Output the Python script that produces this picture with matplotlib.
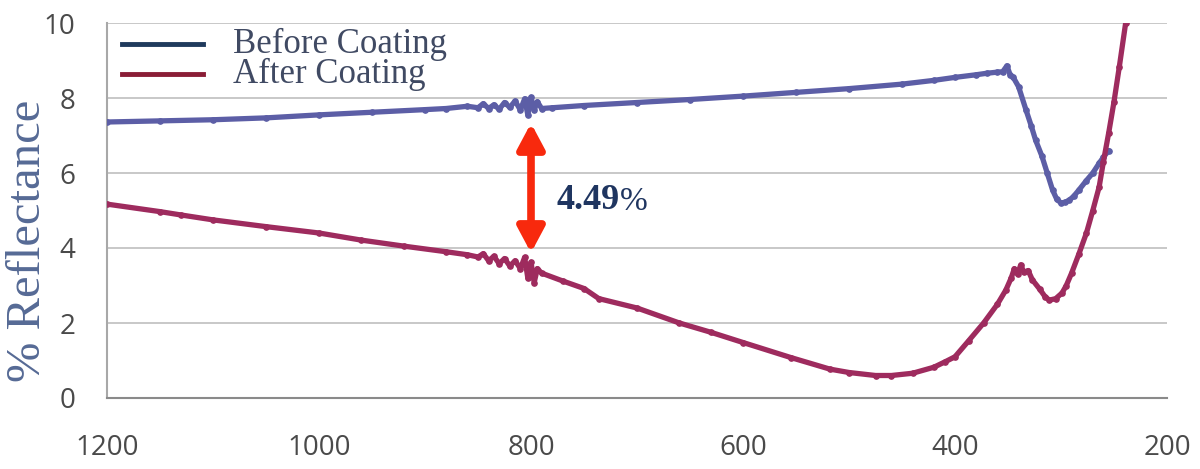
import numpy as np
import matplotlib.pyplot as plt
from matplotlib.lines import Line2D
from matplotlib.patches import FancyArrowPatch

# wavelength (nm) and % reflectance, before coating
wl_before = [1200, 1150, 1100, 1050, 1000, 950, 900, 880, 860, 850, 845, 840, 835,
             830, 825, 820, 815, 810, 806, 803, 800, 797, 794, 790, 780, 750, 700,
             650, 600, 550, 500, 450, 420, 400, 380, 370, 360, 355, 351, 348, 345,
             340, 333, 328, 324, 318, 313, 308, 304, 300, 296, 292, 288, 283, 276,
             270, 264, 260, 255]
r_before = [7.36, 7.39, 7.42, 7.47, 7.55, 7.62, 7.69, 7.72, 7.78, 7.74, 7.85, 7.72,
            7.82, 7.70, 7.88, 7.75, 7.92, 7.68, 7.98, 7.55, 8.02, 7.68, 7.90, 7.72,
            7.74, 7.80, 7.88, 7.96, 8.05, 8.15, 8.25, 8.37, 8.47, 8.55, 8.62, 8.66,
            8.69, 8.70, 8.86, 8.62, 8.55, 8.30, 7.68, 7.25, 6.88, 6.45, 6.00, 5.55,
            5.30, 5.20, 5.22, 5.28, 5.38, 5.55, 5.80, 6.00, 6.26, 6.42, 6.60]

# wavelength (nm) and % reflectance, after coating
wl_after = [1200, 1150, 1130, 1100, 1050, 1000, 960, 920, 880, 860, 850, 845, 840,
            835, 830, 825, 820, 815, 810, 806, 803, 800, 797, 794, 790, 770, 750,
            736, 700, 660, 630, 600, 555, 518, 500, 475, 460, 440, 420, 409, 400,
            387, 373, 360, 352, 347, 344, 341, 338, 335, 331, 327, 320, 315, 311,
            305, 299, 295, 290, 283, 276, 270, 264, 260, 255, 250, 245, 239]
r_after = [5.17, 4.97, 4.88, 4.75, 4.57, 4.40, 4.21, 4.05, 3.90, 3.82, 3.76, 3.85,
           3.66, 3.78, 3.58, 3.72, 3.52, 3.66, 3.45, 3.75, 3.20, 3.62, 3.08, 3.45,
           3.33, 3.12, 2.92, 2.65, 2.40, 2.00, 1.75, 1.48, 1.08, 0.77, 0.68, 0.60,
           0.60, 0.66, 0.82, 0.97, 1.10, 1.53, 2.00, 2.50, 2.88, 3.20, 3.45, 3.30,
           3.55, 3.35, 3.40, 3.15, 2.90, 2.70, 2.61, 2.65, 2.80, 3.00, 3.33, 3.85,
           4.40, 5.00, 5.63, 6.30, 7.07, 7.90, 8.83, 10.0]

gap_wl = 800
gap_top, gap_bottom = 7.33, 3.87
gap_label = "4.49"

c_before = "#5c5ea6"
c_after = "#9e2b5e"

fig = plt.figure(figsize=(12, 4.69), dpi=100)
ax = fig.add_axes([107 / 1200, 1 - 398 / 469, 1060 / 1200, 375 / 469])

ax.plot(wl_before, r_before, color=c_before, lw=3.8, marker="o", ms=3.8,
        solid_capstyle="round", zorder=3)
ax.plot(wl_after, r_after, color=c_after, lw=3.8, marker="o", ms=3.8,
        solid_capstyle="round", zorder=3)

ax.set_xlim(1200, 200)
ax.set_ylim(0, 10)
ax.set_xticks([1200, 1000, 800, 600, 400, 200])
ax.set_yticks([0, 2, 4, 6, 8, 10])
ax.yaxis.grid(True, color="#c4c4c4", lw=1.3)
ax.set_axisbelow(True)
for s in ["top", "right"]:
    ax.spines[s].set_visible(False)
ax.spines["left"].set_color("#a8a8a8")
ax.spines["left"].set_linewidth(1.5)
ax.spines["bottom"].set_color("#8a8a8a")
ax.spines["bottom"].set_linewidth(1.5)
ax.tick_params(axis="both", length=0, labelsize=20, labelcolor="#4a4a4a")
ax.tick_params(axis="x", pad=26)
ax.tick_params(axis="y", pad=23)
for lab in ax.get_xticklabels() + ax.get_yticklabels():
    lab.set_family("Open Sans")

fig.text(28 / 1200, 1 - 241 / 469, "% Reflectance", rotation=90, ha="center",
         va="center", family="Liberation Serif", fontsize=35, color="#566a95")

# double arrow showing the drop in reflectance at 800 nm
arr = FancyArrowPatch((gap_wl, gap_bottom), (gap_wl, gap_top),
                      arrowstyle="<|-|>,head_length=1.5,head_width=0.8",
                      mutation_scale=10, lw=5.5, color="#f8290d",
                      shrinkA=0, shrinkB=0, zorder=4)
ax.add_patch(arr)
t = ax.text(776, 5.28, gap_label, ha="left", va="center", fontsize=26,
            fontweight="bold", family="Liberation Serif", color="#1f3560")
ax.annotate("%", xy=(1, 0), xycoords=t, va="bottom", ha="left", fontsize=24,
            family="Liberation Serif", color="#1f3560")

# legend drawn by hand in figure pixels
H = 469
for y, col, name in [(44, "#1f3a5c", "Before Coating"), (74, "#8a1d36", "After Coating")]:
    fig.add_artist(Line2D([122 / 1200, 203 / 1200], [1 - y / H, 1 - y / H],
                          color=col, lw=3.5, transform=fig.transFigure))
    fig.text(233 / 1200, 1 - y / H, name, ha="left", va="center",
             family="Liberation Serif", fontsize=25, color="#404a63")

fig.savefig("out.png", dpi=100)
